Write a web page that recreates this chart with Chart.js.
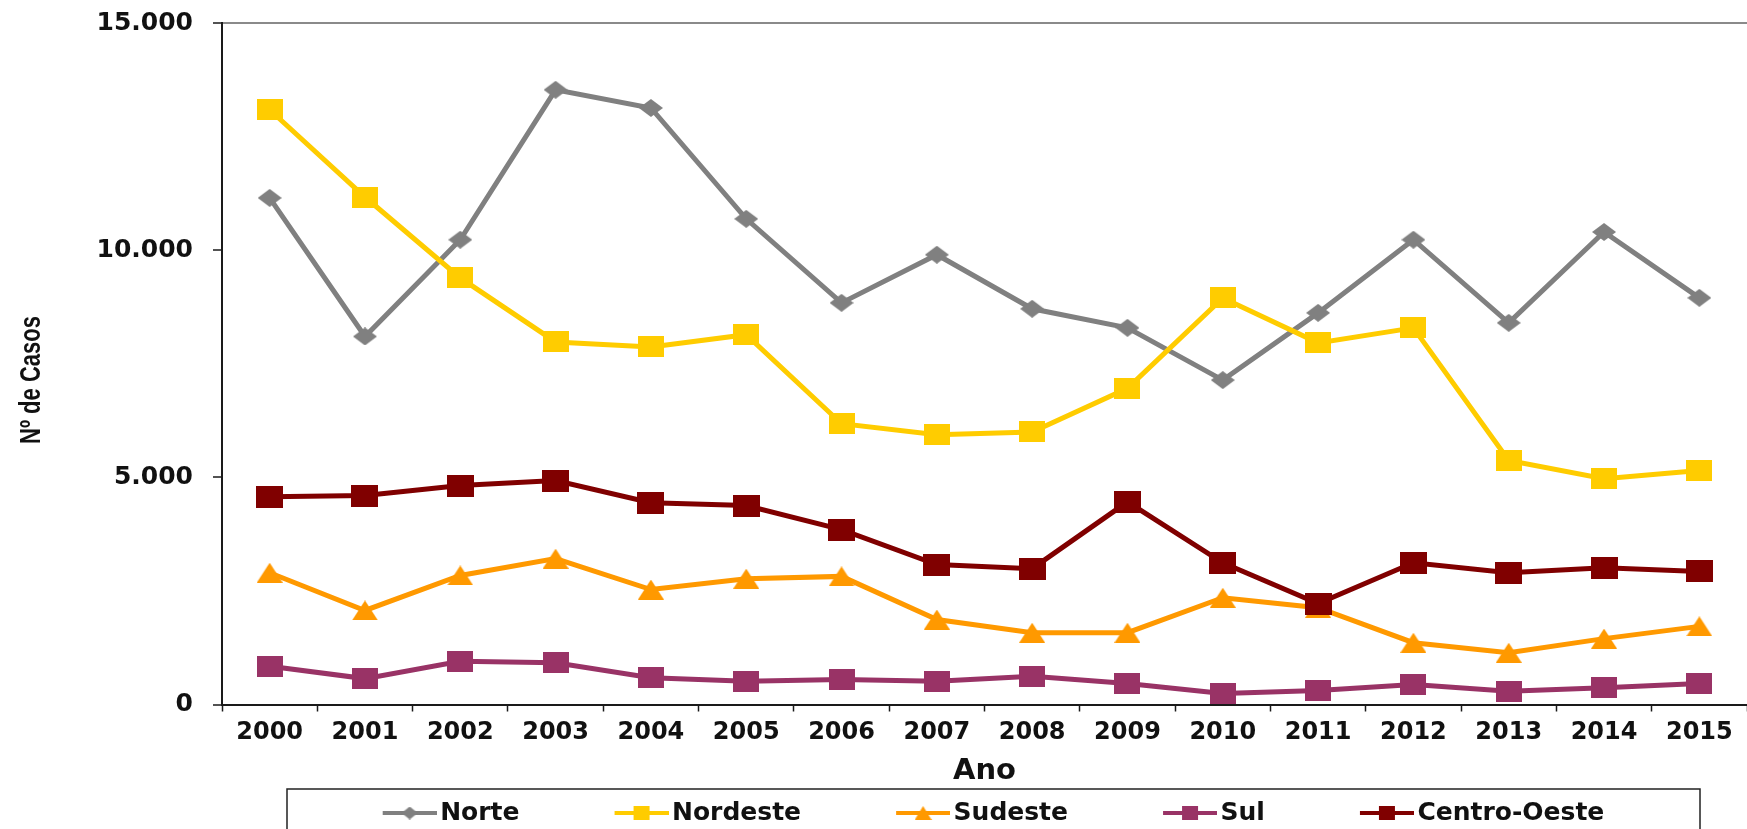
<!DOCTYPE html>
<html>
<head>
<meta charset="utf-8">
<script src="https://cdn.jsdelivr.net/npm/chart.js@4.4.1/dist/chart.umd.min.js"></script>
<style>
  html, body { margin: 0; padding: 0; background: #fff; overflow: hidden; }
  #wrap { width: 1747px; height: 829px; position: relative; }
</style>
</head>
<body>
<div id="wrap"><canvas id="graficoCasos"></canvas></div>
<script>
// dados
var anos = ["2000", "2001", "2002", "2003", "2004", "2005", "2006", "2007",
            "2008", "2009", "2010", "2011", "2012", "2013", "2014", "2015"];
var norte = [11150, 8100, 10230, 13530, 13130, 10690, 8840, 9900, 8710, 8290, 7140, 8620, 10230, 8400, 10400, 8950];
var nordeste = [13090, 11170, 9390, 7980, 7870, 8140, 6180, 5940, 6000, 6960, 8950, 7960, 8290, 5370, 4970, 5150];
var sudeste = [2900, 2070, 2840, 3210, 2530, 2770, 2820, 1870, 1580, 1580, 2350, 2130, 1360, 1140, 1450, 1720];
var sul = [840, 570, 950, 920, 590, 510, 550, 510, 620, 460, 240, 310, 440, 290, 370, 460];
var centroOeste = [4570, 4600, 4820, 4930, 4440, 4380, 3850, 3080, 2990, 4460, 3120, 2220, 3120, 2900, 3010, 2930];
var ticksY = [0, 5000, 10000, 15000];
var rotuloY = "Nº de Casos";
var rotuloX = "Ano";

Chart.defaults.font.family = "'DejaVu Sans', sans-serif";
Chart.defaults.font.weight = "bold";
Chart.defaults.color = "#111";

function marcador(forma, cor, w, h) {
  var c = document.createElement("canvas");
  c.width = w;
  c.height = h;
  var g = c.getContext("2d");
  g.fillStyle = cor;
  g.beginPath();
  if (forma === "losango") {
    g.moveTo(w / 2, 0); g.lineTo(w, h / 2); g.lineTo(w / 2, h); g.lineTo(0, h / 2);
  } else if (forma === "triangulo") {
    g.moveTo(w / 2, 0); g.lineTo(w, h); g.lineTo(0, h);
  } else {
    g.rect(0, 0, w, h);
  }
  g.closePath();
  g.fill();
  return c;
}

// símbolo da legenda: linha com marcador, encostado à direita
function simboloLegenda(forma, cor) {
  var c = document.createElement("canvas");
  c.width = 152;
  c.height = 22;
  var g = c.getContext("2d");
  g.strokeStyle = cor;
  g.lineWidth = 4;
  g.beginPath();
  g.moveTo(98, 11);
  g.lineTo(152, 11);
  g.stroke();
  var w = forma === "triangulo" ? 17 : 16;
  var h = forma === "losango" ? 13 : 14;
  g.drawImage(marcador(forma, cor, w, h), 125 - w / 2, 11 - h / 2);
  return c;
}

var series = [
  { label: "Norte", data: norte, cor: "#808080", forma: "losango", w: 24, h: 18 },
  { label: "Nordeste", data: nordeste, cor: "#ffcc00", forma: "quadrado", w: 26, h: 21 },
  { label: "Sudeste", data: sudeste, cor: "#ff9900", forma: "triangulo", w: 26, h: 20 },
  { label: "Sul", data: sul, cor: "#993366", forma: "quadrado", w: 26, h: 21 },
  { label: "Centro-Oeste", data: centroOeste, cor: "#800000", forma: "quadrado", w: 27, h: 22 }
];

var simbolos = series.map(function (s) { return simboloLegenda(s.forma, s.cor); });

function formatar(v) {
  return String(v).replace(/\B(?=(\d{3})+(?!\d))/g, ".");
}

var ajustes = {
  id: "ajustes",
  afterLayout: function (chart) {
    var lg = chart.legend;
    var h = lg.height;
    lg.left = 151;
    lg.top = chart.scales.x.bottom;
    lg.bottom = lg.top + h;
  },
  afterDraw: function (chart) {
    var ctx = chart.ctx;
    ctx.save();
    ctx.strokeStyle = "#222";
    ctx.lineWidth = 1.5;
    ctx.strokeRect(287, 789, 1413, 60);
    // título do eixo y
    ctx.translate(32, 380);
    ctx.scale(1.35, 1);
    ctx.rotate(-Math.PI / 2);
    ctx.fillStyle = "#111";
    ctx.font = "bold 22px 'Liberation Sans', Arial, sans-serif";
    ctx.textAlign = "center";
    ctx.textBaseline = "middle";
    ctx.fillText(rotuloY, 0, 0);
    ctx.restore();
  }
};

var ctx = document.getElementById("graficoCasos");
new Chart(ctx, {
  type: "line",
  data: {
    labels: anos,
    datasets: series.map(function (s, i) {
      return {
        label: s.label,
        data: s.data,
        borderColor: s.cor,
        backgroundColor: s.cor,
        borderWidth: 5,
        tension: 0,
        pointStyle: marcador(s.forma, s.cor, s.w, s.h),
        pointRadius: 10,
        order: series.length - i
      };
    })
  },
  options: {
    responsive: true,
    maintainAspectRatio: false,
    animation: false,
    events: [],
    layout: { autoPadding: false, padding: { top: 23, right: 0, bottom: -6.5, left: 0 } },
    plugins: {
      tooltip: { enabled: false },
      legend: {
        position: "bottom",
        labels: {
          usePointStyle: true,
          pointStyleWidth: 134,
          padding: 6,
          color: "#111",
          font: { size: 25, weight: "bold" },
          generateLabels: function (chart) {
            return chart.data.datasets.map(function (ds, i) {
              return {
                text: ds.label,
                pointStyle: simbolos[i],
                fillStyle: ds.borderColor,
                strokeStyle: ds.borderColor,
                lineWidth: 0,
                hidden: false,
                fontColor: "#111",
                datasetIndex: i
              };
            });
          }
        }
      }
    },
    scales: {
      x: {
        offset: true,
        afterFit: function (s) {
          s.height = 90;
          s.paddingLeft = 0;
          s.paddingRight = 0;
        },
        border: { color: "#1a1a1a", width: 2 },
        grid: { offset: true, drawOnChartArea: false, color: "#1a1a1a", tickLength: 7, tickWidth: 1.5 },
        ticks: { padding: 7, color: "#111", font: { size: 24, weight: "bold" }, maxRotation: 0, autoSkip: false },
        title: { display: true, text: rotuloX, color: "#111", font: { size: 29, weight: "bold" }, padding: { top: 9, bottom: 6 } }
      },
      y: {
        min: 0,
        max: 15000,
        afterBuildTicks: function (s) {
          s.ticks = ticksY.map(function (v) { return { value: v }; });
        },
        afterFit: function (s) {
          s.width = 222;
          s.paddingTop = 0;
          s.paddingBottom = 0;
        },
        border: { color: "#1a1a1a", width: 2 },
        grid: {
          drawOnChartArea: true,
          color: function (c) {
            return c.tick && c.tick.value === 15000 ? "#8a8a8a" : "rgba(0,0,0,0)";
          },
          lineWidth: 2,
          tickColor: "#1a1a1a",
          tickLength: 9,
          tickWidth: 1.5
        },
        ticks: { padding: 20, color: "#111", font: { size: 25, weight: "bold" }, callback: formatar }
      }
    }
  },
  plugins: [ajustes]
});
</script>
</body>
</html>
